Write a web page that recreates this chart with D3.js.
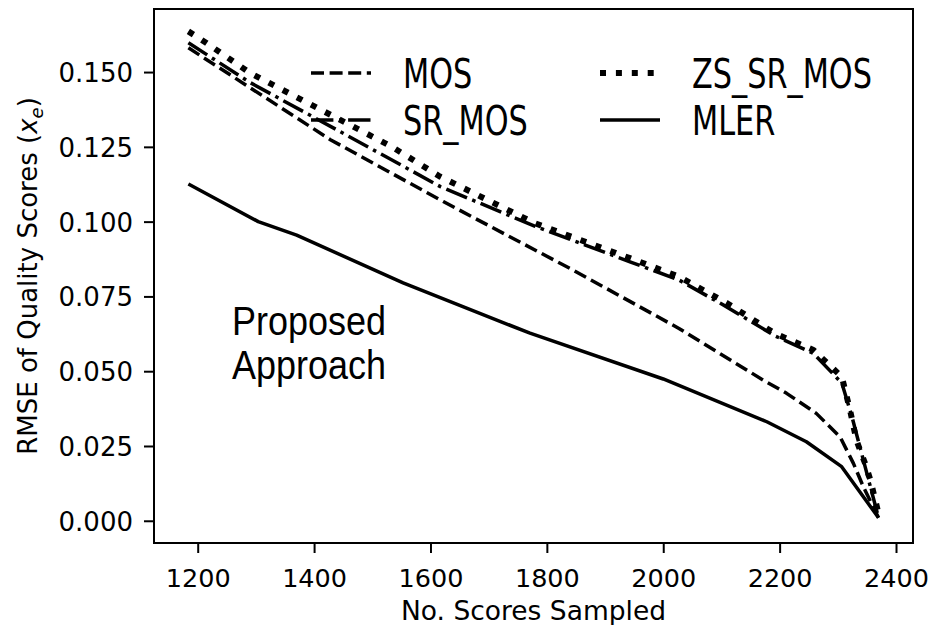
<!DOCTYPE html>
<html>
<head>
<meta charset="utf-8">
<script src="https://cdn.jsdelivr.net/npm/d3@7"></script>
<style>
  body { margin: 0; background: #fff; }
  text { font-family: "DejaVu Sans", sans-serif; fill: #000; }
</style>
</head>
<body>
<div id="chart"></div>
<script>
// sampled sizes and RMSE per method
const mosX = [1184, 1428, 1622, 1845, 2027, 2172, 2212, 2263, 2304, 2327, 2344, 2370];
const mosY = [0.1581, 0.1274, 0.1067, 0.0838, 0.0643, 0.047, 0.0426, 0.0359, 0.028, 0.0191, 0.0113, 0.001];

const srMosX = [1184, 1290, 1439, 1617, 1779, 1944, 2027, 2109, 2192, 2258, 2307, 2324, 2347, 2370];
const srMosY = [0.1598, 0.1465, 0.1307, 0.1117, 0.0985, 0.0865, 0.0805, 0.0715, 0.0618, 0.056, 0.046, 0.035, 0.018, 0.001];

const zsSrMosX = [1184, 1215, 1290, 1373, 1456, 1533, 1616, 1779, 1944, 2027, 2109, 2192, 2258, 2307, 2321, 2332, 2347, 2356, 2370];
const zsSrMosY = [0.1636, 0.1597, 0.1497, 0.1413, 0.1329, 0.1251, 0.1151, 0.0995, 0.0877, 0.0816, 0.0728, 0.0626, 0.0571, 0.0481, 0.037, 0.0269, 0.0191, 0.0136, 0.0024];

const mlerX = [1184, 1304, 1370, 1553, 1771, 2000, 2178, 2246, 2306, 2370];
const mlerY = [0.1126, 0.1, 0.0955, 0.0795, 0.0627, 0.0474, 0.0331, 0.0264, 0.0182, 0.001];

const xTicks = [1200, 1400, 1600, 1800, 2000, 2200, 2400];
const yTicks = [0, 0.025, 0.05, 0.075, 0.1, 0.125, 0.15];
const seriesNames = ['MOS', 'SR_MOS', 'ZS_SR_MOS', 'MLER'];

const width = 933, height = 625;
const frame = { left: 154, top: 9, right: 913, bottom: 543 };

const svg = d3.select('#chart').append('svg')
  .attr('width', width)
  .attr('height', height);

const x = d3.scaleLinear().domain([1124.9, 2429.2]).range([frame.left, frame.right]);
const y = d3.scaleLinear().domain([-0.00743, 0.17108]).range([frame.bottom, frame.top]);

// line styles, dash lengths scale with width like matplotlib
const styles = {
  MOS: { w: 3.5, dash: '13,5.6' },
  SR_MOS: { w: 3.5, dash: '22.4,5.6,3.5,5.6' },
  ZS_SR_MOS: { w: 6, dash: '6,9.9' },
  MLER: { w: 3.5, dash: null }
};

const series = [
  { name: 'MOS', pts: d3.zip(mosX, mosY) },
  { name: 'SR_MOS', pts: d3.zip(srMosX, srMosY) },
  { name: 'ZS_SR_MOS', pts: d3.zip(zsSrMosX, zsSrMosY) },
  { name: 'MLER', pts: d3.zip(mlerX, mlerY) }
];

const line = d3.line()
  .x((d) => x(d[0]))
  .y((d) => y(d[1]));

svg.append('g').selectAll('path')
  .data(series)
  .enter()
  .append('path')
  .attr('d', (d) => line(d.pts))
  .attr('fill', 'none')
  .attr('stroke', '#000')
  .attr('stroke-width', (d) => styles[d.name].w)
  .attr('stroke-dasharray', (d) => styles[d.name].dash)
  .attr('stroke-linejoin', 'round');

// axes
const xAxis = svg.append('g')
  .attr('transform', `translate(0,${frame.bottom})`)
  .call(d3.axisBottom(x).tickValues(xTicks).tickSize(10).tickSizeOuter(0).tickFormat(d3.format('d')));
xAxis.select('.domain').remove();
xAxis.selectAll('line').attr('stroke-width', 2);
xAxis.selectAll('text')
  .attr('y', 44)
  .attr('dy', 0)
  .style('font-size', '25.5px');

const yAxis = svg.append('g')
  .attr('transform', `translate(${frame.left},0)`)
  .call(d3.axisLeft(y).tickValues(yTicks).tickSize(10).tickSizeOuter(0).tickFormat(d3.format('.3f')));
yAxis.select('.domain').remove();
yAxis.selectAll('line').attr('stroke-width', 2);
yAxis.selectAll('text')
  .attr('x', -21)
  .attr('dy', '0.36em')
  .style('font-size', '26px');

svg.append('rect')
  .attr('x', frame.left)
  .attr('y', frame.top)
  .attr('width', frame.right - frame.left)
  .attr('height', frame.bottom - frame.top)
  .attr('fill', 'none')
  .attr('stroke', '#000')
  .attr('stroke-width', 2);

// axis titles
svg.append('text')
  .attr('x', (frame.left + frame.right) / 2)
  .attr('y', 620)
  .attr('text-anchor', 'middle')
  .style('font-size', '26.5px')
  .text('No. Scores Sampled');

const yLabel = svg.append('text')
  .attr('transform', `translate(37,${(frame.top + frame.bottom) / 2}) rotate(-90)`)
  .attr('text-anchor', 'middle')
  .style('font-size', '26px');
yLabel.append('tspan').text('RMSE of Quality Scores (');
yLabel.append('tspan').style('font-style', 'italic').text('x');
yLabel.append('tspan').style('font-style', 'italic').style('font-size', '18px').attr('dy', 6).text('e');
yLabel.append('tspan').attr('dy', -6).text(')');

// legend, two columns, no frame
const legendPos = [[311, 73], [311, 120], [600, 73], [600, 120]];
const legend = svg.append('g').selectAll('g')
  .data(seriesNames)
  .enter()
  .append('g')
  .attr('transform', (d, i) => `translate(${legendPos[i][0]},${legendPos[i][1]})`);

legend.append('line')
  .attr('x1', 0)
  .attr('x2', 60)
  .attr('stroke', '#000')
  .attr('stroke-width', (d) => styles[d].w)
  .attr('stroke-dasharray', (d) => styles[d].dash);

legend.append('text')
  .attr('transform', 'translate(92,15) scale(0.74,1)')
  .style('font-size', '41px')
  .text((d) => d);

// annotation
const note = svg.append('text')
  .attr('transform', 'translate(232,335) scale(1,1.15)')
  .style('font-family', '"Liberation Sans", Arial, sans-serif')
  .style('font-size', '36px');
note.append('tspan').attr('x', 0).text('Proposed');
note.append('tspan').attr('x', 0).attr('dy', 38).text('Approach');
</script>
</body>
</html>
